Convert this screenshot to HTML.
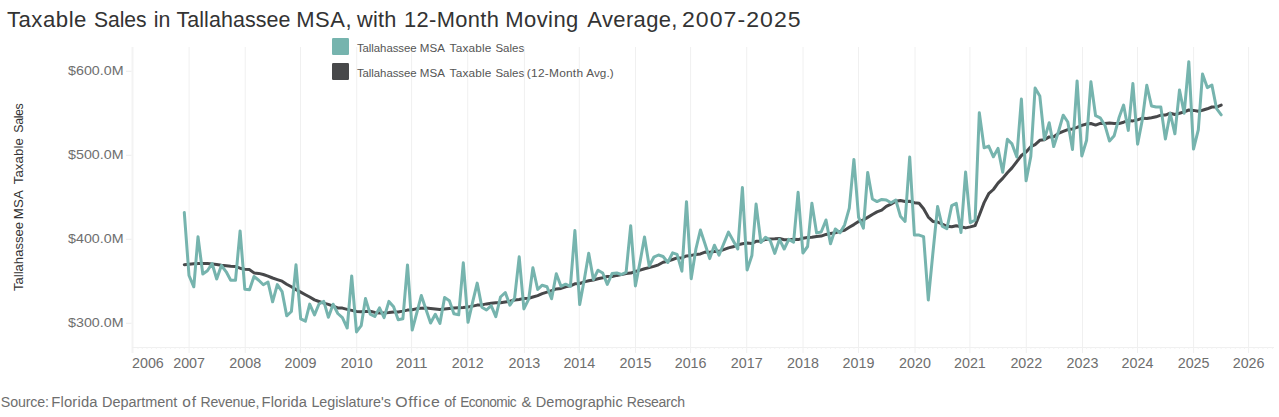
<!DOCTYPE html>
<html><head><meta charset="utf-8"><style>
html,body{margin:0;padding:0;background:#fff;}
body{width:1279px;height:417px;overflow:hidden;}
svg{display:block;font-family:"Liberation Sans",sans-serif;}
</style></head><body>
<svg width="1279" height="417" viewBox="0 0 1279 417">
<g stroke="#f0f0f0" stroke-width="1"><line x1="132.5" y1="47" x2="132.5" y2="353" stroke="#f3f3f3" stroke-width="2"/><line x1="189.1" y1="47" x2="189.1" y2="353" /><line x1="245.2" y1="47" x2="245.2" y2="353" /><line x1="300.5" y1="47" x2="300.5" y2="353" /><line x1="356.7" y1="47" x2="356.7" y2="353" /><line x1="411.6" y1="47" x2="411.6" y2="353" /><line x1="467.7" y1="47" x2="467.7" y2="353" /><line x1="524.4" y1="47" x2="524.4" y2="353" /><line x1="579.3" y1="47" x2="579.3" y2="353" /><line x1="635.5" y1="47" x2="635.5" y2="353" /><line x1="690.6" y1="47" x2="690.6" y2="353" /><line x1="746.7" y1="47" x2="746.7" y2="353" /><line x1="803.0" y1="47" x2="803.0" y2="353" /><line x1="858.5" y1="47" x2="858.5" y2="353" /><line x1="915.0" y1="47" x2="915.0" y2="353" /><line x1="969.9" y1="47" x2="969.9" y2="353" /><line x1="1026.3" y1="47" x2="1026.3" y2="353" /><line x1="1082.5" y1="47" x2="1082.5" y2="353" /><line x1="1137.5" y1="47" x2="1137.5" y2="353" /><line x1="1193.6" y1="47" x2="1193.6" y2="353" /><line x1="1248.6" y1="47" x2="1248.6" y2="353" />
<line x1="132" y1="347.5" x2="1274" y2="347.5"/>
</g>
<path d="M138.01 347.5v1.5M142.28 347.5v1.5M147.02 347.5v1.5M151.60 347.5v1.5M156.34 347.5v1.5M160.92 347.5v1.5M165.66 347.5v1.5M170.39 347.5v1.5M174.98 347.5v1.5M179.71 347.5v1.5M184.30 347.5v1.5M193.77 347.5v1.5M198.05 347.5v1.5M202.78 347.5v1.5M207.37 347.5v1.5M212.10 347.5v1.5M216.69 347.5v1.5M221.42 347.5v1.5M226.16 347.5v1.5M230.74 347.5v1.5M235.48 347.5v1.5M240.06 347.5v1.5M249.53 347.5v1.5M253.96 347.5v1.5M258.70 347.5v1.5M263.28 347.5v1.5M268.02 347.5v1.5M272.60 347.5v1.5M277.34 347.5v1.5M282.07 347.5v1.5M286.66 347.5v1.5M291.39 347.5v1.5M295.98 347.5v1.5M305.45 347.5v1.5M309.73 347.5v1.5M314.46 347.5v1.5M319.04 347.5v1.5M323.78 347.5v1.5M328.36 347.5v1.5M333.10 347.5v1.5M337.84 347.5v1.5M342.42 347.5v1.5M347.15 347.5v1.5M351.74 347.5v1.5M361.21 347.5v1.5M365.49 347.5v1.5M370.22 347.5v1.5M374.81 347.5v1.5M379.54 347.5v1.5M384.13 347.5v1.5M388.86 347.5v1.5M393.60 347.5v1.5M398.18 347.5v1.5M402.92 347.5v1.5M407.50 347.5v1.5M416.97 347.5v1.5M421.25 347.5v1.5M425.99 347.5v1.5M430.57 347.5v1.5M435.31 347.5v1.5M439.89 347.5v1.5M444.63 347.5v1.5M449.36 347.5v1.5M453.94 347.5v1.5M458.68 347.5v1.5M463.26 347.5v1.5M472.74 347.5v1.5M477.17 347.5v1.5M481.90 347.5v1.5M486.49 347.5v1.5M491.22 347.5v1.5M495.81 347.5v1.5M500.54 347.5v1.5M505.28 347.5v1.5M509.86 347.5v1.5M514.60 347.5v1.5M519.18 347.5v1.5M528.65 347.5v1.5M532.93 347.5v1.5M537.67 347.5v1.5M542.25 347.5v1.5M546.98 347.5v1.5M551.57 347.5v1.5M556.30 347.5v1.5M561.04 347.5v1.5M565.62 347.5v1.5M570.36 347.5v1.5M574.94 347.5v1.5M584.41 347.5v1.5M588.69 347.5v1.5M593.43 347.5v1.5M598.01 347.5v1.5M602.75 347.5v1.5M607.33 347.5v1.5M612.07 347.5v1.5M616.80 347.5v1.5M621.39 347.5v1.5M626.12 347.5v1.5M630.71 347.5v1.5M640.18 347.5v1.5M644.46 347.5v1.5M649.19 347.5v1.5M653.77 347.5v1.5M658.51 347.5v1.5M663.09 347.5v1.5M667.83 347.5v1.5M672.57 347.5v1.5M677.15 347.5v1.5M681.89 347.5v1.5M686.47 347.5v1.5M695.94 347.5v1.5M700.37 347.5v1.5M705.11 347.5v1.5M709.69 347.5v1.5M714.43 347.5v1.5M719.01 347.5v1.5M723.75 347.5v1.5M728.48 347.5v1.5M733.06 347.5v1.5M737.80 347.5v1.5M742.38 347.5v1.5M751.86 347.5v1.5M756.13 347.5v1.5M760.87 347.5v1.5M765.45 347.5v1.5M770.19 347.5v1.5M774.77 347.5v1.5M779.51 347.5v1.5M784.24 347.5v1.5M788.83 347.5v1.5M793.56 347.5v1.5M798.15 347.5v1.5M807.62 347.5v1.5M811.90 347.5v1.5M816.63 347.5v1.5M821.22 347.5v1.5M825.95 347.5v1.5M830.54 347.5v1.5M835.27 347.5v1.5M840.01 347.5v1.5M844.59 347.5v1.5M849.33 347.5v1.5M853.91 347.5v1.5M863.38 347.5v1.5M867.66 347.5v1.5M872.40 347.5v1.5M876.98 347.5v1.5M881.71 347.5v1.5M886.30 347.5v1.5M891.03 347.5v1.5M895.77 347.5v1.5M900.35 347.5v1.5M905.09 347.5v1.5M909.67 347.5v1.5M919.14 347.5v1.5M923.58 347.5v1.5M928.31 347.5v1.5M932.89 347.5v1.5M937.63 347.5v1.5M942.21 347.5v1.5M946.95 347.5v1.5M951.69 347.5v1.5M956.27 347.5v1.5M961.00 347.5v1.5M965.59 347.5v1.5M975.06 347.5v1.5M979.34 347.5v1.5M984.07 347.5v1.5M988.66 347.5v1.5M993.39 347.5v1.5M997.98 347.5v1.5M1002.71 347.5v1.5M1007.45 347.5v1.5M1012.03 347.5v1.5M1016.77 347.5v1.5M1021.35 347.5v1.5M1030.82 347.5v1.5M1035.10 347.5v1.5M1039.84 347.5v1.5M1044.42 347.5v1.5M1049.16 347.5v1.5M1053.74 347.5v1.5M1058.48 347.5v1.5M1063.21 347.5v1.5M1067.79 347.5v1.5M1072.53 347.5v1.5M1077.11 347.5v1.5M1086.59 347.5v1.5M1090.86 347.5v1.5M1095.60 347.5v1.5M1100.18 347.5v1.5M1104.92 347.5v1.5M1109.50 347.5v1.5M1114.24 347.5v1.5M1118.97 347.5v1.5M1123.56 347.5v1.5M1128.29 347.5v1.5M1132.88 347.5v1.5M1142.35 347.5v1.5M1146.78 347.5v1.5M1151.52 347.5v1.5M1156.10 347.5v1.5M1160.83 347.5v1.5M1165.42 347.5v1.5M1170.15 347.5v1.5M1174.89 347.5v1.5M1179.47 347.5v1.5M1184.21 347.5v1.5M1188.79 347.5v1.5M1198.26 347.5v1.5M1202.54 347.5v1.5M1207.28 347.5v1.5M1211.86 347.5v1.5M1216.60 347.5v1.5M1221.18 347.5v1.5M1225.92 347.5v1.5M1230.65 347.5v1.5M1235.24 347.5v1.5M1239.97 347.5v1.5M1244.56 347.5v1.5M1254.03 347.5v1.5M1258.31 347.5v1.5M1263.04 347.5v1.5M1267.62 347.5v1.5M1272.36 347.5v1.5" stroke="#f3f3f3" stroke-width="1" fill="none"/>
<g font-size="21.3" fill="#333"><text transform="translate(6.88 26.5) scale(1.0424 1)" letter-spacing="0.488">Taxable</text><text transform="translate(94.01 26.5) scale(0.9922 1)" letter-spacing="-0.101">Sales</text><text transform="translate(153.80 26.5) scale(1.0000 1)" letter-spacing="0.000">in</text><text transform="translate(176.40 26.5) scale(1.0072 1)" letter-spacing="0.079">Tallahassee</text><text transform="translate(296.24 26.5) scale(1.0330 1)" letter-spacing="0.516">MSA,</text><text transform="translate(357.00 26.5) scale(1.0205 1)" letter-spacing="0.245">with</text><text transform="translate(404.06 26.5) scale(1.0276 1)" letter-spacing="0.334">12-Month</text><text transform="translate(505.24 26.5) scale(1.0335 1)" letter-spacing="0.426">Moving</text><text transform="translate(587.30 26.5) scale(1.0320 1)" letter-spacing="0.367">Average,</text><text transform="translate(682.01 26.5) scale(1.0831 1)" letter-spacing="0.958">2007-2025</text></g>
<g font-size="13.5" fill="#6e6e6e"><text x="123.5" y="74.75" text-anchor="end" textLength="55.4" lengthAdjust="spacingAndGlyphs">$600.0M</text><line x1="126" y1="71.25" x2="131.5" y2="71.25" stroke="#ececec" stroke-width="1"/><text x="123.5" y="158.75" text-anchor="end" textLength="55.4" lengthAdjust="spacingAndGlyphs">$500.0M</text><line x1="126" y1="155.25" x2="131.5" y2="155.25" stroke="#ececec" stroke-width="1"/><text x="123.5" y="242.75" text-anchor="end" textLength="55.4" lengthAdjust="spacingAndGlyphs">$400.0M</text><line x1="126" y1="239.25" x2="131.5" y2="239.25" stroke="#ececec" stroke-width="1"/><text x="123.5" y="326.75" text-anchor="end" textLength="55.4" lengthAdjust="spacingAndGlyphs">$300.0M</text><line x1="126" y1="323.25" x2="131.5" y2="323.25" stroke="#ececec" stroke-width="1"/></g>
<g font-size="14.3" fill="#6e6e6e"><text x="147.9" y="367.9" text-anchor="middle" textLength="31.8" lengthAdjust="spacingAndGlyphs">2006</text><text x="189.1" y="367.9" text-anchor="middle" textLength="31.8" lengthAdjust="spacingAndGlyphs">2007</text><text x="245.2" y="367.9" text-anchor="middle" textLength="31.8" lengthAdjust="spacingAndGlyphs">2008</text><text x="300.5" y="367.9" text-anchor="middle" textLength="31.8" lengthAdjust="spacingAndGlyphs">2009</text><text x="356.7" y="367.9" text-anchor="middle" textLength="31.8" lengthAdjust="spacingAndGlyphs">2010</text><text x="411.6" y="367.9" text-anchor="middle" textLength="31.8" lengthAdjust="spacingAndGlyphs">2011</text><text x="467.7" y="367.9" text-anchor="middle" textLength="31.8" lengthAdjust="spacingAndGlyphs">2012</text><text x="524.4" y="367.9" text-anchor="middle" textLength="31.8" lengthAdjust="spacingAndGlyphs">2013</text><text x="579.3" y="367.9" text-anchor="middle" textLength="31.8" lengthAdjust="spacingAndGlyphs">2014</text><text x="635.5" y="367.9" text-anchor="middle" textLength="31.8" lengthAdjust="spacingAndGlyphs">2015</text><text x="690.6" y="367.9" text-anchor="middle" textLength="31.8" lengthAdjust="spacingAndGlyphs">2016</text><text x="746.7" y="367.9" text-anchor="middle" textLength="31.8" lengthAdjust="spacingAndGlyphs">2017</text><text x="803.0" y="367.9" text-anchor="middle" textLength="31.8" lengthAdjust="spacingAndGlyphs">2018</text><text x="858.5" y="367.9" text-anchor="middle" textLength="31.8" lengthAdjust="spacingAndGlyphs">2019</text><text x="915.0" y="367.9" text-anchor="middle" textLength="31.8" lengthAdjust="spacingAndGlyphs">2020</text><text x="969.9" y="367.9" text-anchor="middle" textLength="31.8" lengthAdjust="spacingAndGlyphs">2021</text><text x="1026.3" y="367.9" text-anchor="middle" textLength="31.8" lengthAdjust="spacingAndGlyphs">2022</text><text x="1082.5" y="367.9" text-anchor="middle" textLength="31.8" lengthAdjust="spacingAndGlyphs">2023</text><text x="1137.5" y="367.9" text-anchor="middle" textLength="31.8" lengthAdjust="spacingAndGlyphs">2024</text><text x="1193.6" y="367.9" text-anchor="middle" textLength="31.8" lengthAdjust="spacingAndGlyphs">2025</text><text x="1248.6" y="367.9" text-anchor="middle" textLength="31.8" lengthAdjust="spacingAndGlyphs">2026</text></g>
<g transform="translate(22.75 291) rotate(-90)" font-size="13" fill="#333"><text transform="translate(-0.00 0) scale(1.0029 1)" letter-spacing="0.020">Tallahassee</text><text transform="translate(71.68 0) scale(1.0204 1)" letter-spacing="0.270">MSA</text><text transform="translate(106.70 0) scale(1.0159 1)" letter-spacing="0.115">Taxable</text><text transform="translate(158.23 0) scale(0.9540 1)" letter-spacing="-0.380">Sales</text></g>
<path d="M184.3 264.7 L189.0 264.2 L193.8 263.7 L198.0 263.4 L202.8 263.4 L207.4 263.6 L212.1 264.0 L216.7 264.5 L221.4 265.2 L226.2 265.7 L230.7 266.2 L235.5 266.6 L240.1 268.2 L244.8 269.3 L249.5 269.6 L254.0 272.9 L258.7 273.4 L263.3 274.5 L268.0 276.1 L272.6 278.0 L277.3 279.6 L282.1 281.2 L286.7 284.2 L291.4 286.8 L296.0 289.6 L300.7 292.1 L305.4 294.7 L309.7 297.0 L314.5 299.9 L319.0 301.5 L323.8 303.1 L328.4 304.4 L333.1 306.1 L337.8 307.9 L342.4 308.1 L347.2 309.4 L351.7 310.4 L356.5 311.5 L361.2 311.8 L365.5 311.4 L370.2 311.3 L374.8 312.4 L379.5 312.9 L384.1 312.9 L388.9 312.5 L393.6 311.9 L398.2 312.0 L402.9 311.1 L407.5 310.1 L412.2 309.8 L417.0 308.6 L421.3 308.3 L426.0 307.9 L430.6 308.4 L435.3 309.0 L439.9 309.5 L444.6 309.1 L449.4 308.6 L453.9 308.1 L458.7 307.8 L463.3 307.6 L468.0 307.0 L472.7 306.1 L477.2 305.1 L481.9 304.9 L486.5 303.9 L491.2 303.2 L495.8 302.7 L500.5 302.7 L505.3 302.0 L509.9 301.3 L514.6 300.0 L519.2 299.5 L523.9 298.4 L528.7 298.3 L532.9 297.0 L537.7 295.6 L542.2 293.6 L547.0 292.1 L551.6 290.7 L556.3 288.9 L561.0 288.4 L565.6 286.8 L570.4 285.9 L574.9 283.8 L579.7 283.5 L584.4 281.9 L588.7 280.8 L593.4 280.0 L598.0 278.8 L602.7 277.7 L607.3 276.5 L612.1 276.5 L616.8 275.4 L621.4 274.6 L626.1 273.5 L630.7 273.1 L635.4 271.5 L640.2 270.1 L644.5 268.7 L649.2 267.6 L653.8 266.4 L658.5 264.8 L663.1 262.3 L667.8 261.2 L672.6 259.5 L677.1 257.9 L681.9 257.9 L686.5 255.9 L691.2 255.4 L695.9 254.5 L700.4 253.9 L705.1 252.1 L709.7 252.2 L714.4 251.4 L719.0 251.3 L723.7 249.7 L728.5 247.9 L733.1 246.8 L737.8 244.9 L742.4 243.7 L747.1 243.0 L751.9 243.5 L756.1 241.3 L760.9 241.2 L765.5 239.4 L770.2 239.0 L774.8 238.8 L779.5 238.4 L784.2 239.8 L788.8 239.7 L793.6 239.2 L798.1 239.6 L802.9 238.2 L807.6 237.4 L811.9 237.3 L816.6 236.5 L821.2 236.1 L826.0 234.4 L830.5 233.6 L835.3 232.7 L840.0 231.4 L844.6 230.2 L849.3 227.3 L853.9 224.6 L858.6 221.6 L863.4 220.0 L867.7 217.4 L872.4 214.5 L877.0 211.9 L881.7 210.1 L886.3 206.4 L891.0 204.1 L895.8 201.3 L900.4 200.5 L905.1 201.5 L909.7 201.3 L914.4 202.8 L919.1 203.3 L923.6 208.7 L928.3 217.1 L932.9 221.4 L937.6 222.0 L942.2 224.2 L946.9 226.3 L951.7 226.8 L956.3 225.7 L961.0 226.7 L965.6 227.9 L970.3 226.9 L975.1 225.6 L979.3 215.3 L984.1 202.6 L988.7 193.7 L993.4 189.5 L998.0 183.1 L1002.7 178.4 L1007.4 172.8 L1012.0 167.9 L1016.8 161.6 L1021.4 155.5 L1026.1 152.0 L1030.8 146.7 L1035.1 144.7 L1039.8 140.3 L1044.4 139.8 L1049.2 136.9 L1053.7 136.8 L1058.5 133.4 L1063.2 131.4 L1067.8 129.6 L1072.5 128.9 L1077.1 127.4 L1081.8 125.4 L1086.6 124.0 L1090.9 123.5 L1095.6 125.1 L1100.2 123.3 L1104.9 123.5 L1109.5 123.1 L1114.2 123.4 L1119.0 123.6 L1123.6 122.2 L1128.3 120.6 L1132.9 120.9 L1137.6 119.9 L1142.3 118.2 L1146.8 118.5 L1151.5 117.7 L1156.1 116.8 L1160.8 115.2 L1165.4 115.1 L1170.2 113.2 L1174.9 114.5 L1179.5 113.3 L1184.2 111.9 L1188.8 110.0 L1193.5 110.4 L1198.3 111.3 L1202.5 110.3 L1207.3 108.8 L1211.9 107.0 L1216.6 107.1 L1221.2 105.1" fill="none" stroke="#47484a" stroke-width="3" stroke-linejoin="round" stroke-linecap="round"/>
<path d="M184.3 212.6 L189.0 275.5 L193.8 286.8 L198.0 236.8 L202.8 274.0 L207.4 270.8 L212.1 263.5 L216.7 279.0 L221.4 265.5 L226.2 271.8 L230.7 280.3 L235.5 280.3 L240.1 230.9 L244.8 289.2 L249.5 289.7 L254.0 276.5 L258.7 280.2 L263.3 284.7 L268.0 282.0 L272.6 301.8 L277.3 284.6 L282.1 291.6 L286.7 315.8 L291.4 311.5 L296.0 264.8 L300.7 318.8 L305.4 321.2 L309.7 304.1 L314.5 314.9 L319.0 304.0 L323.8 301.4 L328.4 317.3 L333.1 304.2 L337.8 313.5 L342.4 317.6 L347.2 328.0 L351.7 276.0 L356.5 331.9 L361.2 325.7 L365.5 298.6 L370.2 314.1 L374.8 316.5 L379.5 307.9 L384.1 317.6 L388.9 301.4 L393.6 306.8 L398.2 319.8 L402.9 318.7 L407.5 264.9 L412.2 330.1 L417.0 312.2 L421.3 295.5 L426.0 309.4 L430.6 323.0 L435.3 314.3 L439.9 323.4 L444.6 297.5 L449.4 300.7 L453.9 313.7 L458.7 314.8 L463.3 262.8 L468.0 322.3 L472.7 301.8 L477.2 283.1 L481.9 307.2 L486.5 310.0 L491.2 305.7 L495.8 316.7 L500.5 297.0 L505.3 292.5 L509.9 305.2 L514.6 298.1 L519.2 256.8 L523.9 308.9 L528.7 299.2 L532.9 267.7 L537.7 289.5 L542.2 285.2 L547.0 286.7 L551.6 298.8 L556.3 273.8 L561.0 286.3 L565.6 284.2 L570.4 286.3 L574.9 230.6 L579.7 304.6 L584.4 279.0 L588.7 253.3 L593.4 279.5 L598.0 270.2 L602.7 273.0 L607.3 284.4 L612.1 273.6 L616.8 273.0 L621.4 274.5 L626.1 272.3 L630.7 225.8 L635.4 286.0 L640.2 261.1 L644.5 237.1 L649.2 266.0 L653.8 257.2 L658.5 255.0 L663.1 256.5 L667.8 262.5 L672.6 252.8 L677.1 254.4 L681.9 271.2 L686.5 201.7 L691.2 278.7 L695.9 249.0 L700.4 230.0 L705.1 244.3 L709.7 258.6 L714.4 245.2 L719.0 255.2 L723.7 243.7 L728.5 232.1 L733.1 240.5 L737.8 248.9 L742.4 187.5 L747.1 270.0 L751.9 255.5 L756.1 204.1 L760.9 242.6 L765.5 237.2 L770.2 240.4 L774.8 253.4 L779.5 239.3 L784.2 249.0 L788.8 239.4 L793.6 242.2 L798.1 192.3 L802.9 253.0 L807.6 246.5 L811.9 203.2 L816.6 232.9 L821.2 232.0 L826.0 220.0 L830.5 243.7 L835.3 229.0 L840.0 232.7 L844.6 224.9 L849.3 208.2 L853.9 159.4 L858.6 217.3 L863.4 228.1 L867.7 172.4 L872.4 199.0 L877.0 201.6 L881.7 199.4 L886.3 200.0 L891.0 202.8 L895.8 200.0 L900.4 216.2 L905.1 221.5 L909.7 157.0 L914.4 235.1 L919.1 235.1 L923.6 236.7 L928.3 300.0 L932.9 253.0 L937.6 206.5 L942.2 226.1 L946.9 228.8 L951.7 205.6 L956.3 203.4 L961.0 232.5 L965.6 172.1 L970.3 222.7 L975.1 220.0 L979.3 112.7 L984.1 147.8 L988.7 146.1 L993.4 156.8 L998.0 148.4 L1002.7 172.3 L1007.4 139.2 L1012.0 143.9 L1016.8 157.0 L1021.4 99.0 L1026.1 180.8 L1030.8 156.5 L1035.1 88.1 L1039.8 95.9 L1044.4 139.4 L1049.2 122.7 L1053.7 146.6 L1058.5 131.5 L1063.2 115.2 L1067.8 122.0 L1072.5 149.4 L1077.1 80.9 L1081.8 156.0 L1086.6 140.2 L1090.9 81.8 L1095.6 115.7 L1100.2 117.8 L1104.9 125.2 L1109.5 141.0 L1114.2 135.7 L1119.0 117.8 L1123.6 105.1 L1128.3 130.4 L1132.9 83.5 L1137.6 144.2 L1142.3 120.0 L1146.8 85.3 L1151.5 106.0 L1156.1 107.0 L1160.8 106.9 L1165.4 139.1 L1170.2 113.2 L1174.9 133.8 L1179.5 90.0 L1184.2 113.2 L1188.8 61.7 L1193.5 149.1 L1198.3 129.8 L1202.5 74.1 L1207.3 87.6 L1211.9 85.0 L1216.6 108.7 L1221.2 114.8" fill="none" stroke="#76b4ae" stroke-width="3" stroke-linejoin="round" stroke-linecap="round"/>
<rect x="332" y="38" width="17" height="17" rx="1.2" fill="#76b4ae"/>
<rect x="332" y="63" width="17" height="17" rx="1.2" fill="#47484a"/>
<g font-size="11.5" fill="#555"><text transform="translate(356.90 51.8) scale(0.9925 1)" letter-spacing="-0.045">Tallahassee</text><text transform="translate(419.69 51.8) scale(1.0083 1)" letter-spacing="0.099">MSA</text><text transform="translate(449.59 51.8) scale(1.0283 1)" letter-spacing="0.178">Taxable</text><text transform="translate(495.40 51.8) scale(1.0000 1)" letter-spacing="-0.000">Sales</text><text transform="translate(356.90 76.7) scale(0.9925 1)" letter-spacing="-0.045">Tallahassee</text><text transform="translate(419.69 76.7) scale(1.0083 1)" letter-spacing="0.099">MSA</text><text transform="translate(449.59 76.7) scale(1.0283 1)" letter-spacing="0.178">Taxable</text><text transform="translate(495.40 76.7) scale(1.0000 1)" letter-spacing="-0.000">Sales</text><text transform="translate(526.87 76.7) scale(1.0363 1)" letter-spacing="0.223">(12-Month</text><text transform="translate(586.20 76.7) scale(1.0174 1)" letter-spacing="0.111">Avg.)</text></g>
<g font-size="14.5" fill="#6e6e6e"><text transform="translate(0.81 407.25) scale(0.9833 1)" letter-spacing="-0.136">Source:</text><text transform="translate(51.27 407.25) scale(1.0232 1)" letter-spacing="0.163">Florida</text><text transform="translate(102.00 407.25) scale(0.9973 1)" letter-spacing="-0.022">Department</text><text transform="translate(182.36 407.25) scale(1.0652 1)" letter-spacing="0.704">of</text><text transform="translate(200.53 407.25) scale(0.9732 1)" letter-spacing="-0.235">Revenue,</text><text transform="translate(261.59 407.25) scale(1.0116 1)" letter-spacing="0.082">Florida</text><text transform="translate(311.41 407.25) scale(0.9912 1)" letter-spacing="-0.059">Legislature's</text><text transform="translate(395.23 407.25) scale(1.0950 1)" letter-spacing="0.630">Office</text><text transform="translate(444.31 407.25) scale(0.9870 1)" letter-spacing="-0.152">of</text><text transform="translate(460.17 407.25) scale(0.9428 1)" letter-spacing="-0.538">Economic</text><text x="521.48" y="407.25" textLength="9.99" lengthAdjust="spacingAndGlyphs">&amp;</text><text transform="translate(535.80 407.25) scale(1.0041 1)" letter-spacing="0.035">Demographic</text><text transform="translate(626.84 407.25) scale(0.9691 1)" letter-spacing="-0.273">Research</text></g>
</svg>
</body></html>
